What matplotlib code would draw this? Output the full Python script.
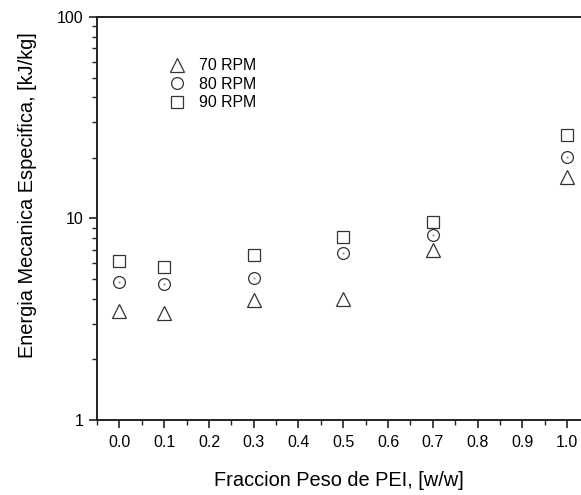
import matplotlib
matplotlib.use('Agg')
import matplotlib.pyplot as plt
from matplotlib.ticker import LogLocator, FixedLocator, MultipleLocator, NullFormatter

plt.rcParams['font.family'] = ['Liberation Sans', 'DejaVu Sans']

# PEI weight fraction and specific mechanical energy (kJ/kg)
fraccion = [0.0, 0.1, 0.3, 0.5, 0.7, 1.0]
rpm70 = [3.47, 3.38, 3.94, 3.98, 6.98, 16.0]
rpm80 = [4.86, 4.73, 5.08, 6.76, 8.28, 20.1]
rpm90 = [6.15, 5.77, 6.57, 8.07, 9.6, 25.9]

col = '#333333'

fig = plt.figure(figsize=(5.81, 4.95), dpi=100)
ax = fig.add_axes([0.167, 0.1515, 0.833, 0.8142])

ax.plot(fraccion, rpm70, linestyle='none', marker='^', ms=9.5, mfc='none',
        mec=col, mew=0.9, label='70 RPM')
ax.plot(fraccion, rpm80, linestyle='none', marker='o', ms=8.5, mfc='none',
        mec=col, mew=0.9, label='80 RPM')
ax.plot(fraccion, rpm80, linestyle='none', marker='.', ms=1.0, color='#888888')
ax.plot(fraccion, rpm90, linestyle='none', marker='s', ms=8.5, mfc='none',
        mec=col, mew=0.9, label='90 RPM')

ax.set_yscale('log')
ax.set_ylim(1, 100)
ax.set_xlim(-0.05, 1.031)

ax.xaxis.set_major_locator(FixedLocator([i / 10 for i in range(11)]))
ax.xaxis.set_minor_locator(MultipleLocator(0.05))
ax.set_xticklabels(['%.1f' % (i / 10) for i in range(11)])
ax.yaxis.set_major_locator(FixedLocator([1, 10, 100]))
ax.set_yticklabels(['1', '10', '100'])
ax.yaxis.set_minor_locator(LogLocator(base=10, subs=range(2, 10)))
ax.yaxis.set_minor_formatter(NullFormatter())

ax.tick_params(which='major', direction='out', length=6, width=1.2,
               labelsize=11.5, color='#222222')
ax.tick_params(which='minor', direction='out', length=3.5, width=1.0,
               color='#222222')
ax.tick_params(axis='x', which='major', pad=5)

for side in ['left', 'bottom', 'top']:
    ax.spines[side].set_linewidth(1.4)
    ax.spines[side].set_color('#222222')
ax.spines['right'].set_visible(False)

ax.set_xlabel('Fraccion Peso de PEI, [w/w]', fontsize=14.4, labelpad=15)
ax.set_ylabel('Energia Mecanica Especifica, [kJ/kg]', fontsize=14.4)
ax.yaxis.set_label_coords(-0.125, 0.558)

ax.legend(loc='upper left', bbox_to_anchor=(0.149, 0.897), frameon=False,
          fontsize=11.4, handletextpad=0.9, labelspacing=0.22,
          handlelength=1.0, borderpad=0, borderaxespad=0)

fig.savefig('out.png', dpi=100)
